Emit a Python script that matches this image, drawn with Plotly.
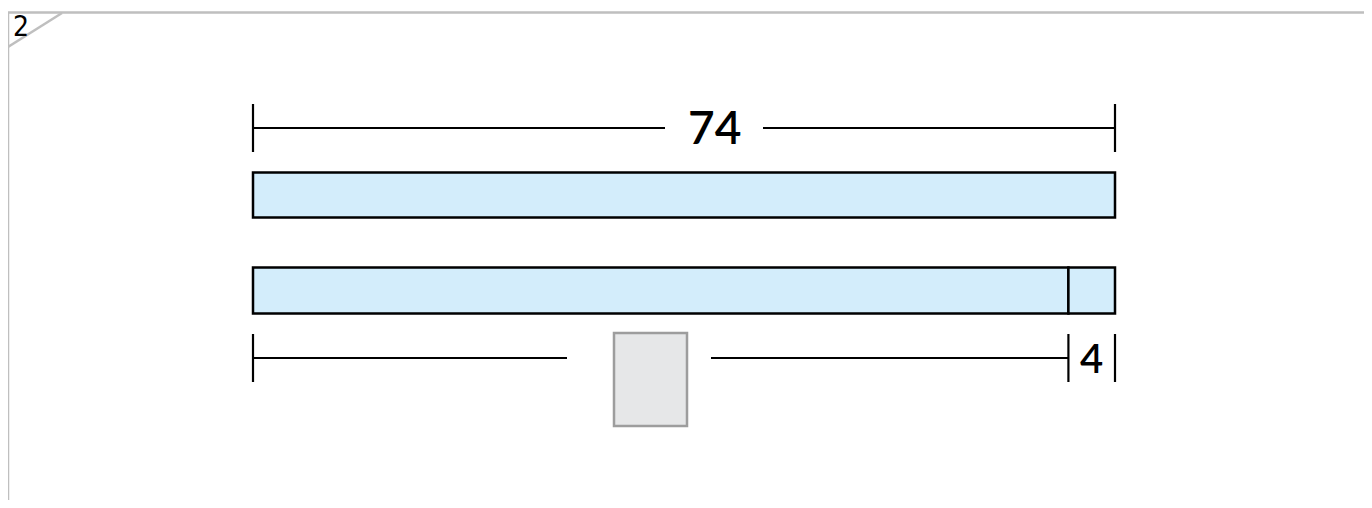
import plotly.graph_objects as go

# Data
total = 74
known_part = 4
unknown_part = total - known_part   # shown as blank box
total_label = "74"
part_label = "4"
corner_label = "2"

# page body has an 8px margin; figure drawn in its own pixel frame
OFF = 8
W, H = 1364, 492
X0_PX, X1_PX = 253 - OFF, 1115 - OFF
k = (X1_PX - X0_PX) / total          # px per unit
xr = [-X0_PX / k, (W - X0_PX) / k]

def dx(px):  # reference-pixel x -> data
    return (px - OFF - X0_PX) / k

def dy(px):  # reference-pixel y -> y data
    return px - OFF

fill = "#d3edfb"
bar_line = dict(color="black", width=2.5)
fig = go.Figure()

# top bar: total
fig.add_trace(go.Bar(x=[total], y=[dy(195)], base=[0], width=[45], orientation="h",
                     marker=dict(color=fill, line=bar_line),
                     hoverinfo="skip", showlegend=False))
# second bar: unknown + known part
fig.add_trace(go.Bar(x=[unknown_part], y=[dy(290.5)], base=[0], width=[46], orientation="h",
                     marker=dict(color=fill, line=bar_line),
                     hoverinfo="skip", showlegend=False))
fig.add_trace(go.Bar(x=[known_part], y=[dy(290.5)], base=[unknown_part], width=[46], orientation="h",
                     marker=dict(color=fill, line=bar_line),
                     hoverinfo="skip", showlegend=False))

shapes = []
blk = dict(color="black", width=2.2)
# top bracket
yt = dy(128)
gap_l, gap_r = dx(665), dx(763)
shapes += [
    dict(type="line", xref="x", yref="y", x0=0, x1=gap_l, y0=yt, y1=yt, line=blk),
    dict(type="line", xref="x", yref="y", x0=gap_r, x1=total, y0=yt, y1=yt, line=blk),
    dict(type="line", xref="x", yref="y", x0=0, x1=0, y0=dy(104), y1=dy(152), line=blk),
    dict(type="line", xref="x", yref="y", x0=total, x1=total, y0=dy(104), y1=dy(152), line=blk),
]
# bottom bracket
yb = dy(358)
g2l, g2r = dx(567), dx(711)
shapes += [
    dict(type="line", xref="x", yref="y", x0=0, x1=g2l, y0=yb, y1=yb, line=blk),
    dict(type="line", xref="x", yref="y", x0=g2r, x1=unknown_part, y0=yb, y1=yb, line=blk),
    dict(type="line", xref="x", yref="y", x0=0, x1=0, y0=dy(334), y1=dy(382), line=blk),
    dict(type="line", xref="x", yref="y", x0=unknown_part, x1=unknown_part, y0=dy(334), y1=dy(382), line=blk),
    dict(type="line", xref="x", yref="y", x0=total, x1=total, y0=dy(334), y1=dy(382), line=blk),
    # answer box
    dict(type="rect", xref="x", yref="y", x0=dx(614), x1=dx(687),
         y0=dy(333), y1=dy(426), fillcolor="#e6e7e8", line=dict(color="#9d9d9d", width=2.5)),
]
# frame (page-pixel positions converted to figure paper fractions)
gray = dict(color="#bfbfbf", width=2.5)
def px_x(v): return (v - OFF) / W
def px_y(v): return 1 - (v - OFF) / H
shapes += [
    dict(type="rect", xref="paper", yref="paper", x0=px_x(8), x1=px_x(1369), y0=px_y(12.5), y1=px_y(530),
         line=gray, fillcolor="rgba(0,0,0,0)", layer="below"),
    dict(type="line", xref="paper", yref="paper", x0=px_x(8), x1=px_x(62), y0=px_y(47), y1=px_y(13), line=gray),
]

font = "Lato, 'DejaVu Sans', sans-serif"
annotations = [
    dict(x=(gap_l + gap_r) / 2, y=yt, xref="x", yref="y", text=total_label, showarrow=False,
         font=dict(family=font, size=46, color="black", weight=600), yshift=2),
    dict(x=(unknown_part + total) / 2, y=yb, xref="x", yref="y", text=part_label, showarrow=False,
         font=dict(family=font, size=40, color="black", weight=600)),
    dict(x=px_x(11), y=px_y(27), xref="paper", yref="paper", text=corner_label, showarrow=False,
         xanchor="left", yanchor="middle",
         font=dict(family="'Liberation Sans Narrow', 'DejaVu Sans Condensed', sans-serif",
                   size=28, color="black")),
]

fig.update_layout(
    width=W, height=H, margin=dict(l=0, r=0, t=0, b=0),
    paper_bgcolor="white", plot_bgcolor="white",
    xaxis=dict(range=xr, visible=False, fixedrange=True),
    yaxis=dict(range=[H, 0], visible=False, fixedrange=True),
    barmode="overlay", shapes=shapes, annotations=annotations,
)
fig.write_html("out.html")
